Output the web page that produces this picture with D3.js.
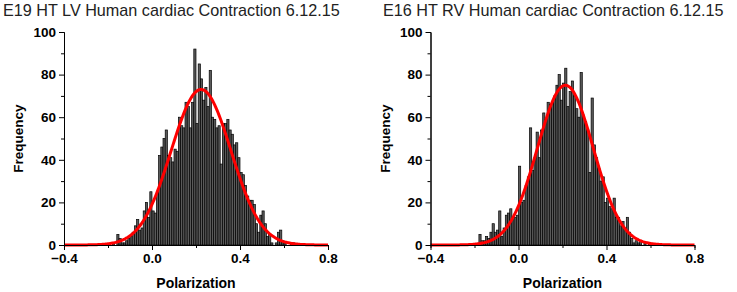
<!DOCTYPE html>
<html>
<head>
<meta charset="utf-8">
<script src="https://cdn.jsdelivr.net/npm/d3@7"></script>
<style>
  body { margin: 0; background: #fff; }
  svg { display: block; }
  .tick text { font-family: "Liberation Sans", Arial, sans-serif; font-weight: bold; font-size: 13.5px; fill: #000; }
  .axis path, .axis line { stroke: #000; stroke-width: 1; }
</style>
</head>
<body>
<div id="chart"></div>
<script>
// bin left edges start here, 0.01 wide
const binWidth = 0.01;
const lvStart = -0.20;
const lvCounts = [
  0, 0, 1, 0, 5, 3, 1, 1, 2, 3,
  4, 6, 9, 12, 7, 8, 16, 20, 13, 25,
  16, 15, 25, 42, 46, 50, 54, 42, 41, 39,
  45, 44, 60, 56, 55, 67, 65, 55, 67, 92,
  57, 85, 78, 68, 74, 65, 82, 60, 59, 55,
  56, 38, 57, 57, 59, 54, 52, 47, 48, 41,
  34, 33, 28, 23, 21, 21, 19, 10, 6, 14,
  16, 10, 4, 5, 1, 0, 1, 6, 7, 2,
  1, 0, 0, 1, 1, 0
];
const rvStart = -0.20;
const rvCounts = [
  0, 0, 5, 2, 2, 4, 3, 6, 10, 6,
  7, 16, 4, 8, 14, 15, 17, 13, 13, 14,
  37, 20, 21, 28, 32, 55, 35, 41, 53, 41,
  54, 62, 59, 67, 66, 67, 70, 75, 80, 68,
  76, 83, 65, 72, 77, 70, 64, 60, 81, 61,
  58, 54, 34, 69, 47, 41, 36, 30, 32, 20,
  22, 18, 17, 22, 13, 13, 9, 11, 8, 13,
  6, 3, 1, 2, 1, 2, 0, 1, 0, 1,
  0
];
// gaussian fit parameters: amplitude, centre, width
const lvFit = { a: 73, xc: 0.223, w: 0.136 };
const rvFit = { a: 75, xc: 0.213, w: 0.127 };

const xTicks = [-0.4, 0.0, 0.4, 0.8];
const xMinor = [-0.2, 0.2, 0.6];
const yTicks = [0, 20, 40, 60, 80, 100];
const yMinor = [10, 30, 50, 70, 90];

const panels = [
  { title: 'E19 HT LV Human cardiac Contraction 6.12.15', start: lvStart, counts: lvCounts, fit: lvFit, left: 64, titleX: 3 },
  { title: 'E16 HT RV Human cardiac Contraction 6.12.15', start: rvStart, counts: rvCounts, fit: rvFit, left: 430.5, titleX: 383 }
];

const svg = d3.select('#chart').append('svg')
  .attr('width', 737)
  .attr('height', 292);

const plotTop = 32, plotBottom = 245, plotW = 264;

panels.forEach((p) => {
  const x = d3.scaleLinear().domain([-0.4, 0.8]).range([p.left, p.left + plotW]);
  const y = d3.scaleLinear().domain([0, 100]).range([plotBottom, plotTop]);
  const g = svg.append('g');

  // title
  g.append('text')
    .attr('x', p.titleX)
    .attr('y', 16)
    .attr('font-family', '"Liberation Sans", Arial, sans-serif')
    .attr('font-size', 16.2)
    .attr('fill', '#222')
    .text(p.title);

  // bars
  const bins = p.counts.map((c, i) => ({ x0: p.start + i * binWidth, n: c }));
  g.append('g').selectAll('rect')
    .data(bins.filter((d) => d.n > 0))
    .enter().append('rect')
    .attr('x', (d) => x(d.x0))
    .attr('y', (d) => y(d.n))
    .attr('width', (d) => x(d.x0 + binWidth) - x(d.x0))
    .attr('height', (d) => y(0) - y(d.n))
    .attr('fill', '#5a5a5a')
    .attr('stroke', '#000')
    .attr('stroke-width', 0.7);

  // fit curve
  const xs = d3.range(-0.4, 0.8001, 0.005);
  const line = d3.line()
    .x((v) => x(v))
    .y((v) => y(p.fit.a * Math.exp(-((v - p.fit.xc) ** 2) / (2 * p.fit.w * p.fit.w))));
  g.append('path')
    .attr('d', line(xs))
    .attr('fill', 'none')
    .attr('stroke', '#ff0000')
    .attr('stroke-width', 3);

  // axes
  g.append('g').attr('class', 'axis')
    .attr('transform', `translate(0, ${plotBottom})`)
    .call(d3.axisBottom(x).tickValues(xMinor).tickSize(3).tickFormat(''));
  g.append('g').attr('class', 'axis')
    .attr('transform', `translate(0, ${plotBottom})`)
    .call(d3.axisBottom(x).tickValues(xTicks).tickSize(5).tickSizeOuter(0).tickPadding(3).tickFormat(d3.format('.1f')));
  g.append('g').attr('class', 'axis')
    .attr('transform', `translate(${p.left}, 0)`)
    .call(d3.axisLeft(y).tickValues(yMinor).tickSize(3).tickFormat(''));
  g.append('g').attr('class', 'axis')
    .attr('transform', `translate(${p.left}, 0)`)
    .call(d3.axisLeft(y).tickValues(yTicks).tickSize(5).tickSizeOuter(0).tickPadding(3));
  g.selectAll('.axis .domain').attr('stroke-width', 1.2);

  // axis titles
  g.append('text')
    .attr('x', p.left + plotW / 2)
    .attr('y', 288)
    .attr('text-anchor', 'middle')
    .attr('font-family', '"Liberation Sans", Arial, sans-serif')
    .attr('font-weight', 'bold')
    .attr('font-size', 14)
    .text('Polarization');
  g.append('text')
    .attr('transform', `translate(${p.left - 41}, ${(plotTop + plotBottom) / 2}) rotate(-90)`)
    .attr('text-anchor', 'middle')
    .attr('font-family', '"Liberation Sans", Arial, sans-serif')
    .attr('font-weight', 'bold')
    .attr('font-size', 13.5)
    .text('Frequency');
});
</script>
</body>
</html>
